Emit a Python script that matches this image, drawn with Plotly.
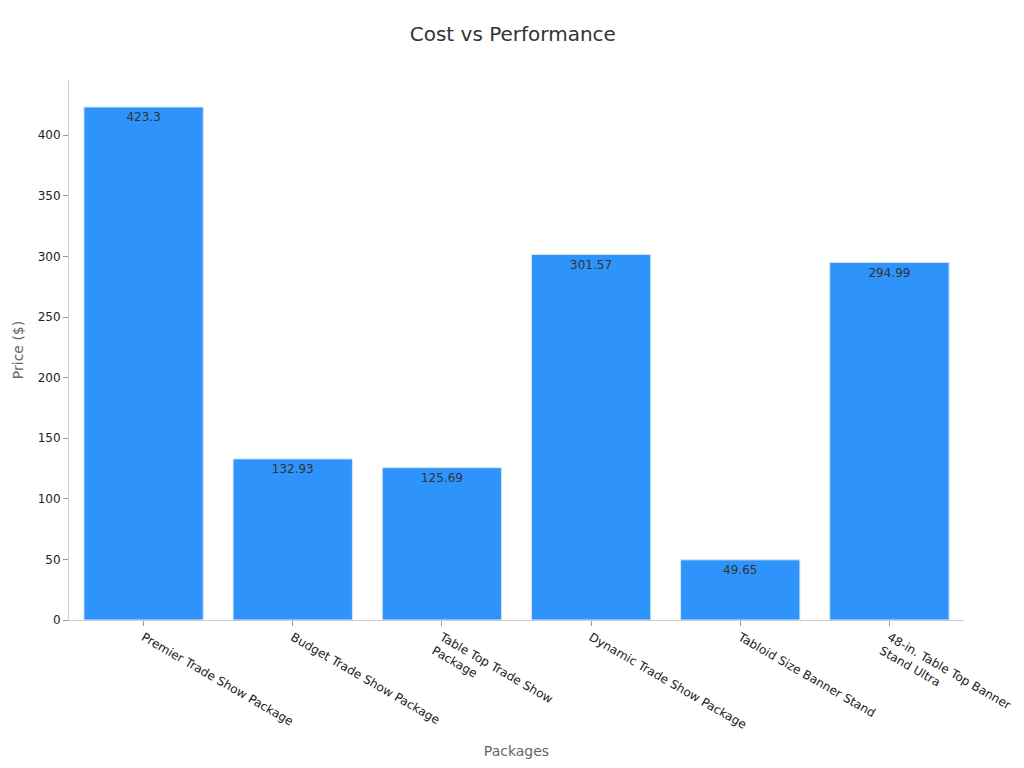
import plotly.graph_objects as go

packages = ["Premier Trade Show Package", "Budget Trade Show Package", "Table Top Trade Show<br>Package",
            "Dynamic Trade Show Package", "Tabloid Size Banner Stand", "48-in. Table Top Banner<br>Stand Ultra"]
prices = [423.3, 132.93, 125.69, 301.57, 49.65, 294.99]

fig = go.Figure()
fig.add_trace(go.Bar(
    x=packages, y=prices, text=[str(p) for p in prices],
    textposition="inside", insidetextanchor="end",
    textfont=dict(color="#333333", size=12),
    marker=dict(color="#2e93fa", line=dict(color="#d6e6f7", width=1)),
))

fig.update_layout(
    title=dict(text="Cost vs Performance", x=0.493, y=0.975, font=dict(size=20, color="#333333")),
    font=dict(family="DejaVu Sans", color="#222222", size=12),
    plot_bgcolor="white", paper_bgcolor="white",
    width=1024, height=768,
    margin=dict(l=61, r=68, t=72, b=156),
    bargap=0.2, showlegend=False,
    xaxis=dict(title=dict(text="Packages", font=dict(color="#666666", size=14), standoff=15), tickangle=30,
               showline=True, linecolor="#cccccc", ticks="outside", tickcolor="#999999", automargin=False),
    yaxis=dict(title=dict(text="Price ($)", font=dict(color="#666666", size=14), standoff=10), range=[0, 445.6],
               dtick=50, showgrid=False, showline=True, linecolor="#cccccc", automargin=False,
               ticks="outside", tickcolor="#999999", zeroline=False),
)

fig.write_html("out.html")
